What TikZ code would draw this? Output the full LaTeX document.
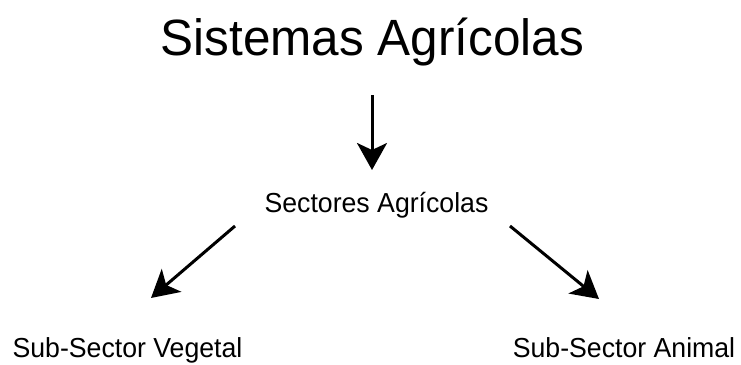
\documentclass[tikz,border=0pt]{standalone}
\usepackage{fontspec}
\setmainfont[FakeStretch=0.97]{Liberation Sans}
\usetikzlibrary{arrows.meta}
\tikzset{
  lbl/.style={anchor=base, inner sep=0pt, font=\fontsize{27.5}{30}\selectfont},
  ttl/.style={anchor=base, inner sep=0pt, font=\fontsize{51}{56}\selectfont},
  arr/.style={line width=3pt, -{Stealth[length=27pt,width=30pt,inset=7pt]}}
}
\begin{document}
\begin{tikzpicture}[x=1pt,y=-1pt]
\useasboundingbox (0,0) rectangle (741,364);
\node[ttl] (title) at (372.5,55) {Sistemas Agrícolas};
\node[lbl] (sect) at (376.5,212) {Sectores Agrícolas};
\node[lbl] (veg) at (127.5,357) {Sub-Sector Vegetal};
\node[lbl] (ani) at (624,357) {Sub-Sector Animal};
\coordinate (a1s) at (372,95);
\coordinate (a1e) at (372,170);
\coordinate (a2s) at (235,226);
\coordinate (a2e) at (151,298);
\coordinate (a3s) at (510,226);
\coordinate (a3e) at (599,299);
\draw[arr] (a1s) -- (a1e);
\draw[arr] (a2s) -- (a2e);
\draw[arr] (a3s) -- (a3e);
\end{tikzpicture}
\end{document}
